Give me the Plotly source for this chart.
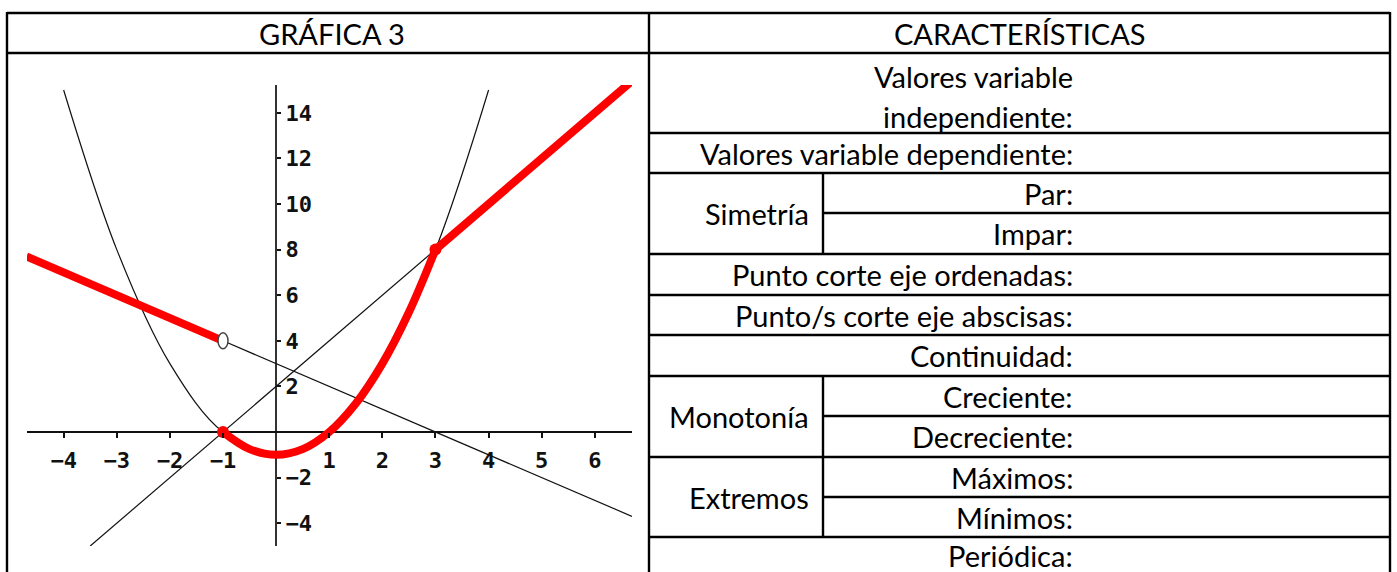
import plotly.graph_objects as go

W, H = 1397, 572

# --- gráfica 3: curvas ---
parabola_x = [-4, -3, -2, -1, 0, 1, 2, 3, 4]
parabola_y = [15, 8, 3, 0, -1, 0, 3, 8, 15]
recta_sube_x = [-3.5, 3]
recta_sube_y = [-5, 8]
recta_baja_x = [-1, 6.7]
recta_baja_y = [4, -3.7]

# función a trozos (en rojo)
tramo1_x = [-4.7, -1]
tramo1_y = [7.7, 4]
tramo2_x = [-1, -0.5, 0, 0.5, 1, 1.5, 2, 2.5, 3]
tramo2_y = [0, -0.75, -1, -0.75, 0, 1.25, 3, 5.25, 8]
tramo3_x = [3, 6.7]
tramo3_y = [8, 15.4]

cerrados_x = [-1, 3]
cerrados_y = [0, 8]
abierto_x, abierto_y = -1, 4

xticks = [-4, -3, -2, -1, 1, 2, 3, 4, 5, 6]
yticks = [-4, -2, 2, 4, 6, 8, 10, 12, 14]
x_rango = [-4.69, 6.70]
y_rango = [-5.0, 15.22]

# --- tabla de características ---
titulos = ["GRÁFICA 3", "CARACTERÍSTICAS"]
filas = [
    "Valores variable dependiente:",
    "Par:", "Impar:",
    "Punto corte eje ordenadas:",
    "Punto/s corte eje abscisas:",
    "Continuidad:",
    "Creciente:", "Decreciente:",
    "Máximos:", "Mínimos:",
    "Periódica:",
]
grupos = ["Simetría", "Monotonía", "Extremos"]

# pixel -> paper
def px(x):
    return x / W

def py(y):
    return 1 - y / H

FONT_TABLA = "Lato"
FS = 29
LW = 2.4

fig = go.Figure()

thin = dict(color="#111", width=1.2)
fig.add_trace(go.Scatter(x=parabola_x, y=parabola_y, mode="lines",
                         line=dict(shape="spline", **thin), hoverinfo="skip"))
fig.add_trace(go.Scatter(x=recta_sube_x, y=recta_sube_y, mode="lines", line=thin, hoverinfo="skip"))
fig.add_trace(go.Scatter(x=recta_baja_x, y=recta_baja_y, mode="lines", line=thin, hoverinfo="skip"))

red = dict(color="#ff0000", width=8)
fig.add_trace(go.Scatter(x=tramo1_x, y=tramo1_y, mode="lines", line=red))
fig.add_trace(go.Scatter(x=tramo2_x, y=tramo2_y, mode="lines", line=dict(shape="spline", **red)))
fig.add_trace(go.Scatter(x=tramo3_x, y=tramo3_y, mode="lines", line=red))
fig.add_trace(go.Scatter(x=cerrados_x, y=cerrados_y, mode="markers",
                         marker=dict(color="#ff0000", size=12)))

# punto abierto
fig.add_shape(type="circle", xref="x", yref="y", xsizemode="pixel", ysizemode="pixel",
              xanchor=abierto_x, yanchor=abierto_y, x0=-5, x1=5, y0=-8, y1=8,
              fillcolor="white", line=dict(color="#444", width=1.5), layer="above")

xd = [px(27), px(632)]
yd = [py(546), py(85)]
pos_x0 = xd[0] + (0 - x_rango[0]) / (x_rango[1] - x_rango[0]) * (xd[1] - xd[0])
pos_y0 = yd[0] + (0 - y_rango[0]) / (y_rango[1] - y_rango[0]) * (yd[1] - yd[0])

tickfont = dict(family="DejaVu Sans Mono", size=22, color="#111", weight="bold")
fig.update_xaxes(range=x_rango, domain=xd, anchor="free", position=pos_y0,
                 showgrid=False, zeroline=True, zerolinecolor="#333", zerolinewidth=2,
                 showline=False, ticks="outside", ticklen=5, tickwidth=1.5, tickcolor="#111",
                 tickvals=xticks, tickfont=tickfont, ticklabelstandoff=4, fixedrange=True)
fig.update_yaxes(range=y_rango, domain=yd, anchor="free", position=pos_x0, side="right",
                 showgrid=False, zeroline=True, zerolinecolor="#111", zerolinewidth=2,
                 showline=False, ticks="outside", ticklen=4, tickwidth=1.5, tickcolor="#111",
                 tickvals=yticks, tickfont=tickfont, fixedrange=True)

# líneas de la tabla
def hline(y, x0, x1):
    fig.add_shape(type="line", xref="paper", yref="paper", x0=px(x0), x1=px(x1),
                  y0=py(y), y1=py(y), line=dict(color="black", width=LW))

def vline(x, y0, y1):
    fig.add_shape(type="line", xref="paper", yref="paper", x0=px(x), x1=px(x),
                  y0=py(y0), y1=py(y1), line=dict(color="black", width=LW))

L, M, S, R = 7, 649, 823, 1390
hline(13, L, R)
hline(53, L, R)
for y in [133, 173, 254, 295, 335, 376, 457, 537]:
    hline(y, M, R)
for y in [213, 416, 497]:
    hline(y, S, R)
vline(L, 12, 572)
vline(M, 12, 572)
vline(R, 12, 572)
vline(S, 173, 254)
vline(S, 376, 537)

def texto(t, x, y, anchor="right"):
    fig.add_annotation(text=t, xref="paper", yref="paper", x=px(x), y=py(y),
                       xanchor=anchor, yanchor="middle", showarrow=False,
                       font=dict(family=FONT_TABLA, size=FS, color="black"))

texto(titulos[0], 332, 33, "center")
texto(titulos[1], 1020, 33, "center")
texto("Valores variable", 1075, 76)
texto("independiente:", 1075, 116)
centros = [153, 193, 233.5, 274.5, 315, 355.5, 396, 436.5, 477, 517, 555]
for t, c in zip(filas, centros):
    texto(t, 1075, c)
for t, c in zip(grupos, [213.5, 416.5, 497]):
    texto(t, 811, c)

fig.update_layout(width=W, height=H, margin=dict(l=0, r=0, t=0, b=0),
                  paper_bgcolor="white", plot_bgcolor="white", showlegend=False)

# la página no debe tener margen alrededor de la figura
fig.write_html("out.html", config={"displayModeBar": False},
               post_script="document.body.style.margin='0px';")
